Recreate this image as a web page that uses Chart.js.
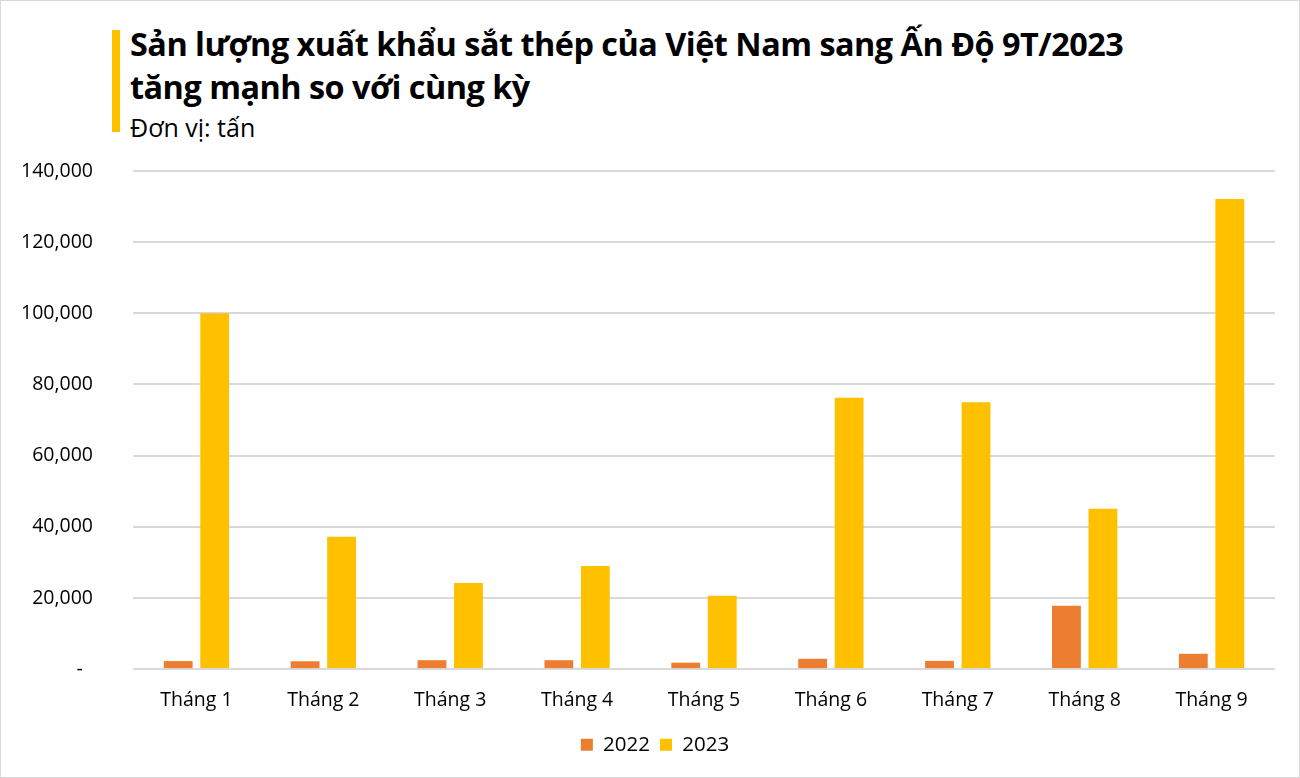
<!DOCTYPE html>
<html>
<head>
<meta charset="utf-8">
<script src="https://cdn.jsdelivr.net/npm/chart.js@4.4.0/dist/chart.umd.min.js"></script>
<style>
    html, body { margin: 0; padding: 0; background: #fff; }
    #wrap {
        position: relative; width: 1300px; height: 778px;
        box-sizing: border-box; border: 1px solid #d9d9d9; overflow: hidden;
        font-family: "Open Sans", sans-serif; color: #000;
    }
    #bar { position: absolute; left: 111px; top: 29px; width: 8px; height: 102px; background: #ffc000; }
    #title {
        position: absolute; left: 129px; top: 21px; margin: 0;
        font-size: 32.4px; font-weight: 700; line-height: 43px; letter-spacing: -0.5px;
    }
    #unit { position: absolute; left: 129px; top: 110px; font-size: 25px; line-height: 32px; }
    #chartBox { position: absolute; left: 0; top: 0; width: 1298px; height: 776px; }
</style>
</head>
<body>
<div id="wrap">
    <div id="bar"></div>
    <h1 id="title">Sản lượng xuất khẩu sắt thép của Việt Nam sang Ấn Độ 9T/2023<br>tăng mạnh so với cùng kỳ</h1>
    <div id="unit">Đơn vị: tấn</div>
    <div id="chartBox"><canvas id="steelChart"></canvas></div>
</div>
<script>
// Data (tonnes)
const months = ['Tháng 1', 'Tháng 2', 'Tháng 3', 'Tháng 4', 'Tháng 5', 'Tháng 6', 'Tháng 7', 'Tháng 8', 'Tháng 9'];
const exports2022 = [2250, 2200, 2500, 2500, 1800, 2900, 2300, 17800, 4300];
const exports2023 = [100000, 37200, 24200, 29000, 20600, 76300, 75000, 45100, 132100];

const font = { family: '"Open Sans", sans-serif', size: 19.5 };

// nudge the legend a bit right, the original isn't centred on the canvas
const legendShift = {
    id: 'legendShift',
    afterLayout(chart) {
        if (chart.legend) chart.legend.left += 34;
    }
};

const ctx = document.getElementById('steelChart').getContext('2d');
const steelChart = new Chart(ctx, {
    type: 'bar',
    data: {
        labels: months,
        datasets: [{
            label: '2022',
            data: exports2022,
            backgroundColor: '#ed7d31'
        }, {
            label: '2023',
            data: exports2023,
            backgroundColor: '#ffc000'
        }]
    },
    options: {
        responsive: true,
        maintainAspectRatio: false,
        animation: false,
        layout: { padding: { left: 0, right: 24, top: 170, bottom: 12 } },
        datasets: {
            bar: { categoryPercentage: 0.575, barPercentage: 0.79 }
        },
        plugins: {
            legend: {
                position: 'bottom',
                labels: { font: { family: font.family, size: 20.5 }, color: '#000', boxWidth: 12, boxHeight: 12, padding: 10 }
            },
            tooltip: { enabled: false }
        },
        scales: {
            x: {
                grid: { display: false },
                border: { display: false },
                ticks: { font: font, color: '#000', padding: 12 }
            },
            y: {
                min: 0,
                max: 140000,
                afterFit: function(scale) { scale.width = 132; },
                grid: { color: '#d9d9d9', lineWidth: 2, drawTicks: false },
                border: { display: false },
                ticks: {
                    stepSize: 20000,
                    font: font,
                    color: '#000',
                    padding: 40,
                    callback: function(value) {
                        // accounting style dash for zero, sits a little left like Excel's
                        return value === 0 ? '-\u00a0\u00a0' : value.toLocaleString('en-US');
                    }
                }
            }
        }
    },
    plugins: [legendShift]
});
</script>
</body>
</html>
